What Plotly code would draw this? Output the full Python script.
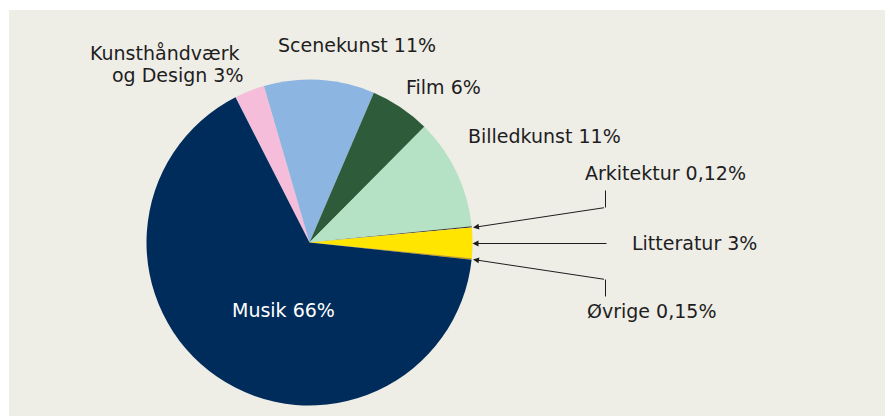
import plotly.graph_objects as go

W, H = 893, 417
OX, OY = 8, 8  # page body margin: figure origin sits at page (8, 8)

# ---- data ----
categories = ["Kunsthåndværk og Design", "Scenekunst", "Film", "Billedkunst",
              "Arkitektur", "Litteratur", "Øvrige", "Musik"]
values = [3, 11, 6, 11, 0.12, 3, 0.15, 66]
label_texts = ["Kunsthåndværk<br>og Design 3%", "Scenekunst 11%", "Film 6%",
               "Billedkunst 11%", "Arkitektur 0,12%", "Litteratur 3%",
               "Øvrige 0,15%", "Musik 66%"]
colors = ["#F5BDDA", "#8DB5E1", "#2E5C3B", "#B5E1C4",
          "#3C3C3C", "#FFE500", "#C9A300", "#002C5B"]

BG = "#EEEDE6"
TXT = "#1E1E1E"


def px(x):
    return (x - OX) / W


def py(y):
    return 1 - (y - OY) / H


cx, cy, r = 309.5, 242.5, 163

fig = go.Figure(go.Pie(
    labels=categories,
    values=values,
    sort=False,
    direction="clockwise",
    rotation=-27,
    marker=dict(colors=colors, line=dict(width=0)),
    textinfo="none",
    hoverinfo="label+percent",
    showlegend=False,
    domain=dict(x=[px(cx - r), px(cx + r)], y=[py(cy + r), py(cy - r)]),
))

font = dict(family="DejaVu Sans, sans-serif", size=19, color=TXT)

# label placement per line: (x, y, xanchor)
label_pos = [
    [(241, 53, "right"), (245.5, 75, "right")],
    [(356.5, 45, "center")],
    [(404, 87, "left")],
    [(466, 136, "left")],
    [(583, 173, "left")],
    [(630, 243, "left")],
    [(585, 311, "left")],
    [(283.5, 310, "center")],
]
annotations = []
for i, (t, poss) in enumerate(zip(label_texts, label_pos)):
    f = dict(font)
    if categories[i] == "Musik":
        f["color"] = "white"
    for line, (x, y, xa) in zip(t.split("<br>"), poss):
        annotations.append(dict(
            x=px(x), y=py(y), xref="paper", yref="paper", text=line,
            showarrow=False, xanchor=xa, yanchor="middle",
            font=f,
        ))

# leader arrows
arrows = [
    ((473, 227.5), (605.5, 207.5)),
    ((472.5, 243.5), (608, 243.5)),
    ((473, 259.5), (605.5, 279.5)),
]
for (hx, hy), (tx, ty) in arrows:
    annotations.append(dict(
        x=px(hx), y=py(hy), xref="paper", yref="paper", text="",
        showarrow=True, ax=tx - hx, ay=ty - hy, axref="pixel", ayref="pixel",
        arrowhead=2, arrowsize=1.2, arrowwidth=1, arrowcolor=TXT,
        standoff=0, startstandoff=0,
    ))

shapes = [
    dict(type="rect", xref="paper", yref="paper", x0=px(9), x1=px(W + OX + 2),
         y0=py(416), y1=py(10), fillcolor=BG, line=dict(width=0), layer="below"),
    dict(type="line", xref="paper", yref="paper", x0=px(605.5), x1=px(605.5),
         y0=py(190.5), y1=py(207.5), line=dict(color=TXT, width=1)),
    dict(type="line", xref="paper", yref="paper", x0=px(605.5), x1=px(605.5),
         y0=py(279.5), y1=py(296.5), line=dict(color=TXT, width=1)),
]

fig.update_layout(
    width=W, height=H,
    margin=dict(l=0, r=0, t=0, b=0),
    paper_bgcolor="white",
    plot_bgcolor="white",
    annotations=annotations,
    shapes=shapes,
)

fig.write_html("out.html", config={"displayModeBar": False})
